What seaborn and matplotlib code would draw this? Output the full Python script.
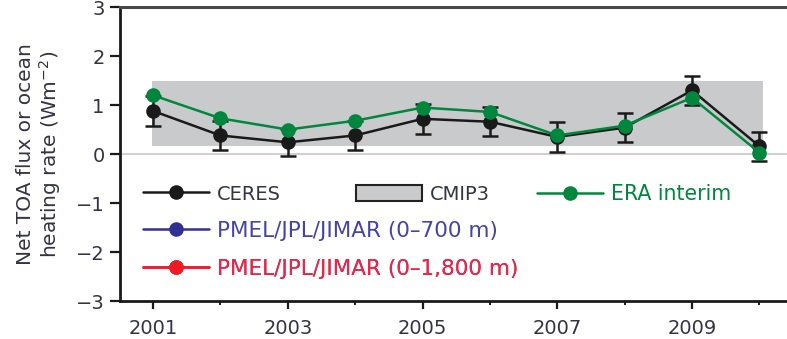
import numpy as np
import pandas as pd
import matplotlib
matplotlib.use("Agg")
import matplotlib.pyplot as plt
from matplotlib.lines import Line2D
from matplotlib.patches import Patch
import seaborn as sns

# ---- data ----
years = [2001, 2002, 2003, 2004, 2005, 2006, 2007, 2008, 2009, 2010]
ceres = [0.88, 0.38, 0.24, 0.38, 0.72, 0.66, 0.35, 0.54, 1.30, 0.16]
ceres_err = [0.30, 0.30, 0.28, 0.30, 0.30, 0.30, 0.30, 0.30, 0.30, 0.30]
era = [1.20, 0.73, 0.50, 0.68, 0.95, 0.86, 0.38, 0.58, 1.15, 0.03]
cmip3_range = [0.16, 1.50]
cmip3_years = [2000.98, 2010.05]
xticks_major = [2001, 2003, 2005, 2007, 2009]
xticks_minor = [2002, 2004, 2006, 2008, 2010]
yticks = [-3, -2, -1, 0, 1, 2, 3]
labels = ["CERES", "CMIP3", "ERA interim",
          "PMEL/JPL/JIMAR (0\u2013700 m)", "PMEL/JPL/JIMAR (0\u20131,800 m)"]

df = pd.DataFrame({"year": years, "CERES": ceres, "ERA": era})

sns.set_style("ticks")
plt.rcParams["font.family"] = ["DejaVu Sans"]

TXT = "#333344"
BLACK = "#1a1a1a"
GREEN = "#00873e"
BLUE = "#2e3192"
RED = "#ed1c24"
GREY = "#c9cacc"

fig = plt.figure(figsize=(7.87, 3.39), dpi=100)
ax = fig.add_axes([0.1525, 0.112, 0.8475, 0.867])

# CMIP3 range box
ax.fill_between(cmip3_years, cmip3_range[0], cmip3_range[1], color=GREY, lw=0, zorder=1)
# zero line
ax.axhline(0, color="#d0d0d0", lw=1.5, zorder=1.5)

# CERES with error bars
ax.errorbar(years, ceres, yerr=ceres_err, fmt="none", ecolor=BLACK, elinewidth=1.8,
            capsize=6, capthick=1.8, zorder=2)
sns.lineplot(data=df, x="year", y="CERES", ax=ax, color=BLACK, lw=1.8, marker="o",
             markersize=10.5, markeredgewidth=0, zorder=3)
sns.lineplot(data=df, x="year", y="ERA", ax=ax, color=GREEN, lw=1.8, marker="o",
             markersize=10.5, markeredgewidth=0, zorder=4)

ax.set_xlim(2000.51, 2010.41)
ax.set_ylim(-3, 3)
ax.set_xticks(xticks_major)
ax.set_xticks(xticks_minor, minor=True)
ax.set_yticks(yticks)
ax.set_yticklabels([("\u2212" + str(-v)) if v < 0 else str(v) for v in yticks])
ax.tick_params(axis="both", which="major", labelsize=14, colors=BLACK, labelcolor=TXT,
               width=1.6, length=7, direction="out")
ax.tick_params(axis="x", which="major", length=6, pad=7)
ax.tick_params(axis="x", which="minor", length=3, width=1.4, color=BLACK)
ax.tick_params(axis="y", pad=4)
ax.set_xlabel("")
ax.set_ylabel("Net TOA flux or ocean\nheating rate (Wm$^{-2}$)", fontsize=14.5,
              color=TXT, labelpad=9, linespacing=1.15)

for s in ["left", "bottom"]:
    ax.spines[s].set_linewidth(2.0)
    ax.spines[s].set_color(BLACK)
ax.spines["top"].set_linewidth(2.2)
ax.spines["top"].set_color("#4a4a4a")
ax.spines["right"].set_visible(False)

# legend entries, placed individually
def h_line(c):
    return Line2D([0], [0], color=c, lw=1.8, marker="o", markersize=10.5, markeredgewidth=0)

entries = [
    (h_line(BLACK), labels[0], TXT, 0.034, 0.364, 14),
    (Patch(facecolor=GREY, edgecolor="#222222", lw=1.5), labels[1], TXT, 0.354, 0.364, 14),
    (h_line(GREEN), labels[2], GREEN, 0.625, 0.364, 14.8),
    (h_line(BLUE), labels[3], "#4444a8", 0.034, 0.238, 15.5),
    (h_line(RED), labels[4], "#e8254a", 0.034, 0.109, 15.5),
]
for h, lab, col, x, y, fs in entries:
    hl = 3.4 * 14 / fs
    leg = ax.legend([h], [lab], loc="center left", bbox_to_anchor=(x, y),
                    frameon=False, fontsize=fs, handlelength=hl, handleheight=0.85 * 14 / fs,
                    handletextpad=0.4 * 14 / fs, borderpad=0, borderaxespad=0)
    for t in leg.get_texts():
        t.set_color(col)
    ax.add_artist(leg)

fig.savefig("out.png", dpi=100)
